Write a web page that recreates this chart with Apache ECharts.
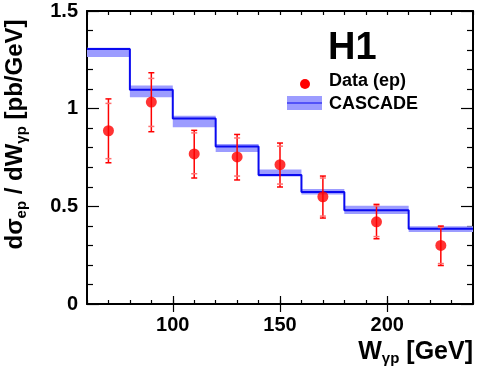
<!DOCTYPE html>
<html>
<head>
<meta charset="utf-8">
<script src="https://cdn.jsdelivr.net/npm/echarts@6/dist/echarts.min.js"></script>
<style>
html,body{margin:0;padding:0;background:#fff;}
#c{width:485px;height:371px;}
</style>
</head>
<body>
<div id="c"></div>
<script>
// ---- data ----
var binEdges = [60, 80, 100, 120, 140, 160, 180, 210, 240];
var cascadeVal = [1.306, 1.097, 0.950, 0.806, 0.661, 0.573, 0.480, 0.385];
var cascadeLow = [1.265, 1.058, 0.905, 0.778, 0.653, 0.560, 0.461, 0.368];
var cascadeHigh = [1.312, 1.118, 0.964, 0.819, 0.688, 0.589, 0.503, 0.398];

var dataW = [70, 90, 110, 130, 150, 170, 195, 225];
var dataVal = [0.887, 1.034, 0.768, 0.753, 0.713, 0.549, 0.421, 0.300];
var totLow = [0.723, 0.882, 0.645, 0.635, 0.599, 0.440, 0.334, 0.197];
var totHigh = [1.050, 1.184, 0.889, 0.868, 0.824, 0.655, 0.510, 0.399];
var statLow = [0.744, 0.909, 0.667, 0.655, 0.614, 0.450, 0.345, 0.207];
var statHigh = [1.027, 1.155, 0.876, 0.850, 0.808, 0.645, 0.502, 0.392];

var xMajorTicks = [100, 150, 200];

// ---- build ----
var FONT = 'Liberation Sans, Arial, Helvetica, sans-serif';
var bandData = cascadeVal.map(function (v, i) {
  return [binEdges[i], binEdges[i + 1], cascadeLow[i], cascadeHigh[i]];
});
var lineData = cascadeVal.map(function (v, i) { return [binEdges[i], v]; });
lineData.push([binEdges[binEdges.length - 1], cascadeVal[cascadeVal.length - 1]]);
var pointData = dataW.map(function (w, i) { return [w, dataVal[i]]; });
var errData = dataW.map(function (w, i) {
  return [w, totLow[i], totHigh[i], statLow[i], statHigh[i]];
});

var chart = echarts.init(document.getElementById('c'), null, {renderer: 'canvas'});

function xAxisBase(pos, tickLen, opts) {
  var a = {
    type: 'value', position: pos, min: 60, max: 240, interval: 10,
    splitLine: {show: false},
    axisLine: {show: true, onZero: false, lineStyle: {color: '#000', width: 2}},
    axisTick: {show: true, inside: true, length: tickLen, lineStyle: {color: '#000', width: 1.2}},
    axisLabel: {show: false}
  };
  for (var k in opts) a[k] = opts[k];
  return a;
}

var option = {
  animation: false,
  backgroundColor: '#fff',
  grid: {left: 87, right: 12, top: 11, bottom: 67, outerBoundsMode: 'none', containLabel: false},
  xAxis: [
    xAxisBase('bottom', 4, {
      axisLabel: {show: true, customValues: xMajorTicks, margin: 11,
        fontFamily: FONT, fontWeight: 'bold', fontSize: 20, color: '#000'},
      name: '{m|W}{s|γp}{m| [GeV]}',
      nameLocation: 'end', nameGap: 0, nameMoveOverlap: false,
      nameTextStyle: {
        align: 'right', verticalAlign: 'top', padding: [35, 0, 0, 0],
        rich: {
          m: {fontFamily: FONT, fontWeight: 'bold', fontSize: 25, color: '#000', lineHeight: 27, verticalAlign: 'middle'},
          s: {fontFamily: FONT, fontWeight: 'bold', fontSize: 15, color: '#000', lineHeight: 15, verticalAlign: 'bottom'}
        }
      }
    }),
    xAxisBase('bottom', 8, {
      axisLine: {show: false},
      axisTick: {show: true, inside: true, length: 8, customValues: xMajorTicks, lineStyle: {color: '#000', width: 1.2}}
    }),
    xAxisBase('top', 4, {}),
    xAxisBase('top', 8, {
      axisLine: {show: false},
      axisTick: {show: true, inside: true, length: 8, customValues: xMajorTicks, lineStyle: {color: '#000', width: 1.2}}
    })
  ],
  yAxis: [
    {
      type: 'value', position: 'left', min: 0, max: 1.5, interval: 0.5,
      splitLine: {show: false},
      axisLine: {show: true, onZero: false, lineStyle: {color: '#000', width: 2}},
      axisTick: {show: true, inside: true, length: 12, lineStyle: {color: '#000', width: 1.2}},
      minorTick: {show: true, splitNumber: 5, length: 6, lineStyle: {color: '#000', width: 1.2}},
      axisLabel: {margin: 9, fontFamily: FONT, fontWeight: 'bold', fontSize: 20, color: '#000'},
      name: '{m|dσ}{s|ep}{m| / dW}{s|γp}{m| [pb/GeV]}',
      nameLocation: 'middle', nameRotate: 90, nameGap: 58, nameMoveOverlap: false,
      nameTextStyle: {
        padding: [0, 0, 0, 46],
        rich: {
          m: {fontFamily: FONT, fontWeight: 'bold', fontSize: 24, color: '#000', lineHeight: 27, verticalAlign: 'middle'},
          s: {fontFamily: FONT, fontWeight: 'bold', fontSize: 15, color: '#000', lineHeight: 15, verticalAlign: 'bottom'}
        }
      }
    },
    {
      type: 'value', position: 'right', min: 0, max: 1.5, interval: 0.5,
      splitLine: {show: false},
      axisLine: {show: true, onZero: false, lineStyle: {color: '#000', width: 2}},
      axisTick: {show: true, inside: true, length: 12, lineStyle: {color: '#000', width: 1.2}},
      minorTick: {show: true, splitNumber: 5, length: 6, lineStyle: {color: '#000', width: 1.2}},
      axisLabel: {show: false}
    }
  ],
  series: [
    {
      name: 'CASCADE band', type: 'custom', xAxisIndex: 0, yAxisIndex: 0,
      data: bandData, z: 1,
      renderItem: function (params, api) {
        var p1 = api.coord([api.value(0), api.value(3)]);
        var p2 = api.coord([api.value(1), api.value(2)]);
        return {
          type: 'rect',
          shape: {x: p1[0], y: p1[1], width: p2[0] - p1[0], height: p2[1] - p1[1]},
          style: {fill: '#9c9cff'}
        };
      }
    },
    {
      name: 'CASCADE', type: 'line', xAxisIndex: 0, yAxisIndex: 0,
      data: lineData, step: 'end', symbol: 'none', z: 2,
      lineStyle: {color: '#0a0af0', width: 2}
    },
    {
      name: 'errors', type: 'custom', xAxisIndex: 0, yAxisIndex: 0,
      data: errData, z: 3,
      renderItem: function (params, api) {
        var x = api.value(0);
        var tl = api.coord([x, api.value(1)]);
        var th = api.coord([x, api.value(2)]);
        var sl = api.coord([x, api.value(3)]);
        var sh = api.coord([x, api.value(4)]);
        var w = 3;
        var red = '#ff0000', pink = '#ff7070';
        function seg(x1, y1, x2, y2, c) {
          return {type: 'line', shape: {x1: x1, y1: y1, x2: x2, y2: y2},
            style: {stroke: c, lineWidth: 1.5}};
        }
        return {
          type: 'group',
          children: [
            seg(th[0], th[1], tl[0], tl[1], red),
            seg(sh[0] - w, sh[1], sh[0] + w, sh[1], pink),
            seg(sl[0] - w, sl[1], sl[0] + w, sl[1], pink),
            seg(th[0] - w, th[1], th[0] + w, th[1], red),
            seg(tl[0] - w, tl[1], tl[0] + w, tl[1], red)
          ]
        };
      }
    },
    {
      name: 'Data (ep)', type: 'scatter', xAxisIndex: 0, yAxisIndex: 0,
      data: pointData, symbol: 'circle', symbolSize: 11, z: 4,
      itemStyle: {color: '#ff0000'}
    }
  ],
  graphic: [
    {type: 'text', left: 328, top: 30, z: 10,
      style: {text: 'H1', fontFamily: FONT, fontWeight: 'bold', fontSize: 38, fill: '#000'}},
    {type: 'circle', shape: {cx: 305, cy: 84, r: 5}, style: {fill: '#ff0000'}, z: 10},
    {type: 'rect', shape: {x: 287, y: 96, width: 35, height: 14}, style: {fill: '#9c9cff'}, z: 10},
    {type: 'line', shape: {x1: 287, y1: 103, x2: 322, y2: 103}, style: {stroke: '#0a0af0', lineWidth: 1}, z: 11},
    {type: 'text', x: 329, y: 81.5, z: 10,
      style: {text: 'Data (ep)', fontFamily: FONT, fontWeight: 'bold', fontSize: 18, fill: '#000', verticalAlign: 'middle'}},
    {type: 'text', x: 329, y: 104, z: 10,
      style: {text: 'CASCADE', fontFamily: FONT, fontWeight: 'bold', fontSize: 18, fill: '#000', verticalAlign: 'middle'}}
  ]
};
chart.setOption(option);
</script>
</body>
</html>
